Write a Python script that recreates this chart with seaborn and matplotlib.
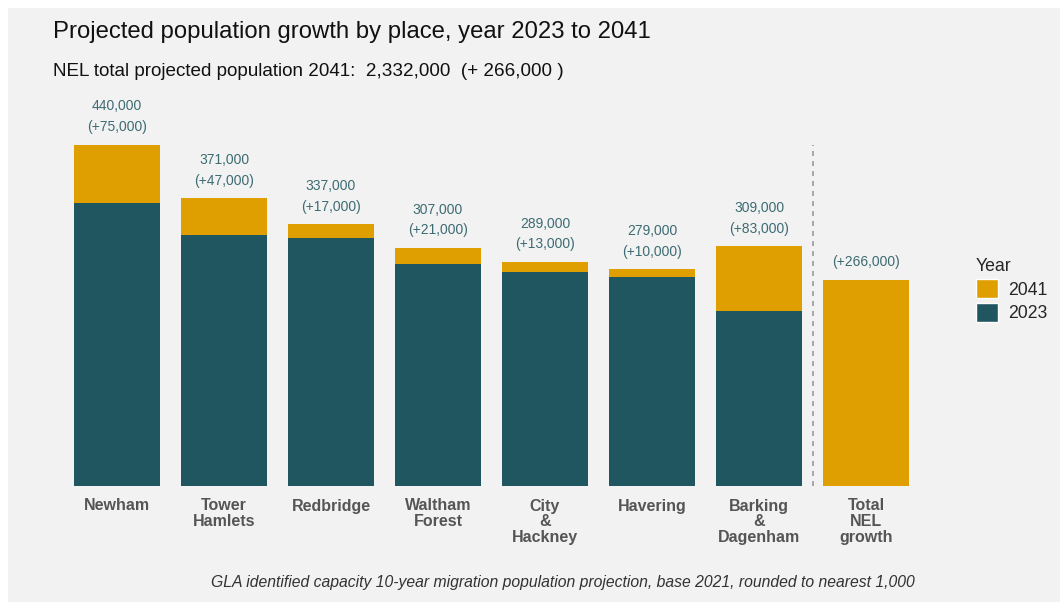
import pandas as pd
import matplotlib.pyplot as plt
from matplotlib.patches import Patch, Rectangle
import seaborn as sns

places = ["Newham", "Tower\nHamlets", "Redbridge", "Waltham\nForest", "City\n&\nHackney",
          "Havering", "Barking\n&\nDagenham", "Total\nNEL\ngrowth"]
pop_2041 = [440000, 371000, 337000, 307000, 289000, 279000, 309000, 266000]
pop_2023 = [365000, 324000, 320000, 286000, 276000, 269000, 226000, 0]
growth = [75000, 47000, 17000, 21000, 13000, 10000, 83000, 266000]

GOLD = "#E09F00"
TEAL = "#20565F"
BG = "#F2F2F2"


def main():
    df = pd.DataFrame({"place": places, "y2041": pop_2041, "y2023": pop_2023, "growth": growth})

    sns.set_theme(style="white")
    plt.rcParams["font.family"] = ["Liberation Sans", "DejaVu Sans"]

    fig = plt.figure(figsize=(10.6, 6.02), dpi=100)
    fig.patch.set_facecolor("white")
    fig.patches.append(Rectangle((8 / 1060, 0), 1, 1 - 8 / 602, transform=fig.transFigure,
                                 facecolor=BG, edgecolor="none", zorder=-10))
    ax = fig.add_axes([63.5 / 1060, 116 / 602, 856 / 1060, 388 / 602])
    ax.set_facecolor(BG)

    sns.barplot(data=df, x="place", y="y2041", color=GOLD, width=0.8, saturation=1,
                linewidth=0, ax=ax)
    sns.barplot(data=df, x="place", y="y2023", color=TEAL, width=0.8, saturation=1,
                linewidth=0, ax=ax)

    ax.set_xlim(-0.5, len(places) - 0.5)
    ax.set_ylim(0, 500000)
    ax.vlines(len(places) - 1.5, 0, max(pop_2041), colors="#9a9a9a", linestyles=(0, (3, 3)), lw=1.2)

    lab_col = "#3D6B73"
    for i, row in df.iterrows():
        if i < len(df) - 1:
            ax.annotate(f"{row.y2041:,}", (i, row.y2041), xytext=(0, 27.5), textcoords="offset points",
                        ha="center", va="center", fontsize=10, color=lab_col)
        ax.annotate(f"(+{row.growth:,})", (i, row.y2041), xytext=(0, 12.5), textcoords="offset points",
                    ha="center", va="center", fontsize=10, color=lab_col)

    ax.set_xlabel("")
    ax.set_ylabel("")
    ax.set_yticks([])
    ax.tick_params(axis="x", length=0, pad=9)
    for t in ax.get_xticklabels():
        t.set_fontweight("bold")
        t.set_fontsize(11.5)
        t.set_color("#555555")
        t.set_linespacing(1.05)
    sns.despine(ax=ax, left=True, bottom=True)

    handles = [Patch(facecolor=GOLD, label="2041"), Patch(facecolor=TEAL, label="2023")]
    leg = fig.legend(handles=handles, title="Year", loc="upper left", bbox_to_anchor=(960 / 1060, 1 - 242 / 602),
                     frameon=False, fontsize=12.7, title_fontsize=12.7, handlelength=1.25, handleheight=1.25,
                     labelspacing=0.25, handletextpad=0.6)
    leg._legend_box.align = "left"

    fig.text(53 / 1060, 1 - 32 / 602, "Projected population growth by place, year 2023 to 2041",
             fontsize=17.2, va="center", ha="left", color="#111111")
    fig.text(53 / 1060, 1 - 71 / 602, "NEL total projected population 2041:  2,332,000  (+ 266,000 )",
             fontsize=13.6, va="center", ha="left", color="#111111")
    fig.text(915 / 1060, 1 - 583 / 602,
             "GLA identified capacity 10-year migration population projection, base 2021, rounded to nearest 1,000",
             fontsize=11.3, style="italic", va="center", ha="right", color="#333333")

    fig.savefig("out.png", dpi=100, facecolor=fig.get_facecolor())


if __name__ == "__main__":
    main()
